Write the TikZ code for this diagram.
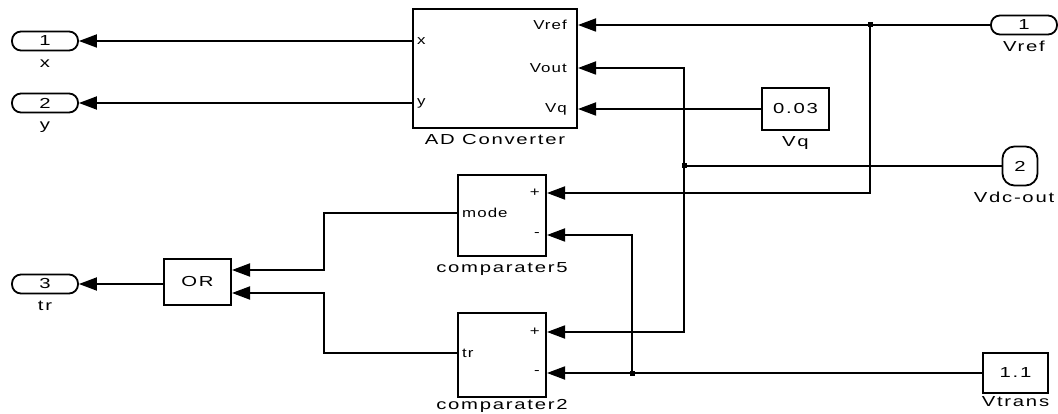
\documentclass[tikz,border=0pt]{standalone}
\usepackage{fontspec}
\newfontfamily\simfont[FakeStretch=1.4,LetterSpace=12]{Liberation Sans}
\newfontfamily\portfont[FakeStretch=1.3,LetterSpace=8]{Liberation Sans}
\usetikzlibrary{arrows.meta,positioning}
\tikzset{
  blk/.style={draw, line width=2pt, inner sep=0pt},
  io/.style={draw, line width=1.8pt, rounded corners=9pt, minimum width=66pt, minimum height=19pt},
  sig/.style={line width=1.8pt, -{Triangle[length=18pt,width=13pt]}},
  wire/.style={line width=1.8pt},
  lbl/.style={inner sep=1pt, font=\simfont\fontsize{14.5}{16}\selectfont},
  plbl/.style={inner sep=1pt, font=\portfont\fontsize{13}{15}\selectfont},
  blkname/.style={lbl, text height=10.5pt, text depth=3pt},
  dot/.style={fill, inner sep=0pt, minimum size=5pt},
}
\begin{document}
\begin{tikzpicture}[x=1pt,y=-1pt]
\useasboundingbox (0,0) rectangle (1058,414);
% outports
\node[lbl,io] (outx) at (45,41) {1};
\node[blkname,below=4pt of outx] (outxlbl) {x};
\node[lbl,io] (outy) at (45,103) {2};
\node[blkname,below=4pt of outy] (outylbl) {y};
\node[lbl,io] (outtr) at (45,284) {3};
\node[blkname,below=4pt of outtr] (outtrlbl) {tr};

% AD converter
\node[blk, minimum width=164pt, minimum height=119pt] (ad) at (495,68.5) {};
\node[blkname,below=4pt of ad] (adlbl) {AD Converter};
\node[plbl,anchor=west] (adx) at (416,41) {x};
\node[plbl,anchor=west] (ady) at (416,103) {y};
\node[plbl,anchor=east] (advref) at (568,25) {Vref};
\node[plbl,anchor=east] (advout) at (568,68) {Vout};
\node[plbl,anchor=east] (advq) at (568,109) {Vq};

% sources
\node[lbl,io] (vref) at (1024,25) {1};
\node[blkname,below=4pt of vref] (vreflbl) {Vref};
\node[lbl,io, minimum width=35pt, minimum height=39pt, rounded corners=12pt] (vdc) at (1020,166) {2};
\node[blkname,below=4pt of vdc,xshift=-6pt] (vdclbl) {Vdc-out};
\node[lbl,blk, minimum width=67pt, minimum height=42pt] (vq) at (795.5,109) {0.03};
\node[blkname,below=4pt of vq] (vqlbl) {Vq};
\node[lbl,blk, minimum width=65pt, minimum height=40pt] (vtrans) at (1015.5,373) {1.1};
\node[blkname,below=1pt of vtrans] (vtranslbl) {Vtrans};

% comparators
\node[blk, minimum width=88pt, minimum height=81pt] (cmpA) at (502,215.5) {};
\node[blkname,below=4pt of cmpA] (cmpAlbl) {comparater5};
\node[plbl,anchor=east] (cmpAp) at (541,193) {+};
\node[plbl,anchor=east] (cmpAm) at (541,235) {-};
\node[plbl,anchor=west] (cmpAo) at (461,213) {mode};
\node[blk, minimum width=88pt, minimum height=84pt] (cmpB) at (502,355) {};
\node[blkname,below=0pt of cmpB] (cmpBlbl) {comparater2};
\node[plbl,anchor=east] (cmpBp) at (541,332) {+};
\node[plbl,anchor=east] (cmpBm) at (541,373) {-};
\node[plbl,anchor=west] (cmpBo) at (461,353) {tr};

% OR
\node[lbl,blk, minimum width=67pt, minimum height=46pt] (or) at (197.5,282) {OR};

% junctions
\node[dot] (j1) at (870,25) {};
\node[dot] (j2) at (684,166) {};
\node[dot] (j3) at (632,373) {};

% wires
\draw[sig] (ad.west |- adx) -- (outx);
\draw[sig] (ad.west |- ady) -- (outy);
\draw[sig] (vref) -- (ad.east |- advref);
\draw[sig] (j1.center) |- (cmpA.east |- cmpAp);
\draw[wire] (vdc) -- (j2.center);
\draw[sig] (j2.center) |- (ad.east |- advout);
\draw[sig] (j2.center) |- (cmpB.east |- cmpBp);
\draw[sig] (vq) -- (ad.east |- advq);
\draw[sig] (vtrans) -- (cmpB.east |- cmpBm);
\draw[sig] (j3.center) |- (cmpA.east |- cmpAm);
\draw[sig] (cmpA.west |- cmpAo) -- ++(-133,0) |- ([yshift=12pt]or.east);
\draw[sig] (cmpB.west |- cmpBo) -- ++(-133,0) |- ([yshift=-11pt]or.east);
\draw[sig] ([yshift=-2pt]or.west) -- (outtr);
\end{tikzpicture}
\end{document}
